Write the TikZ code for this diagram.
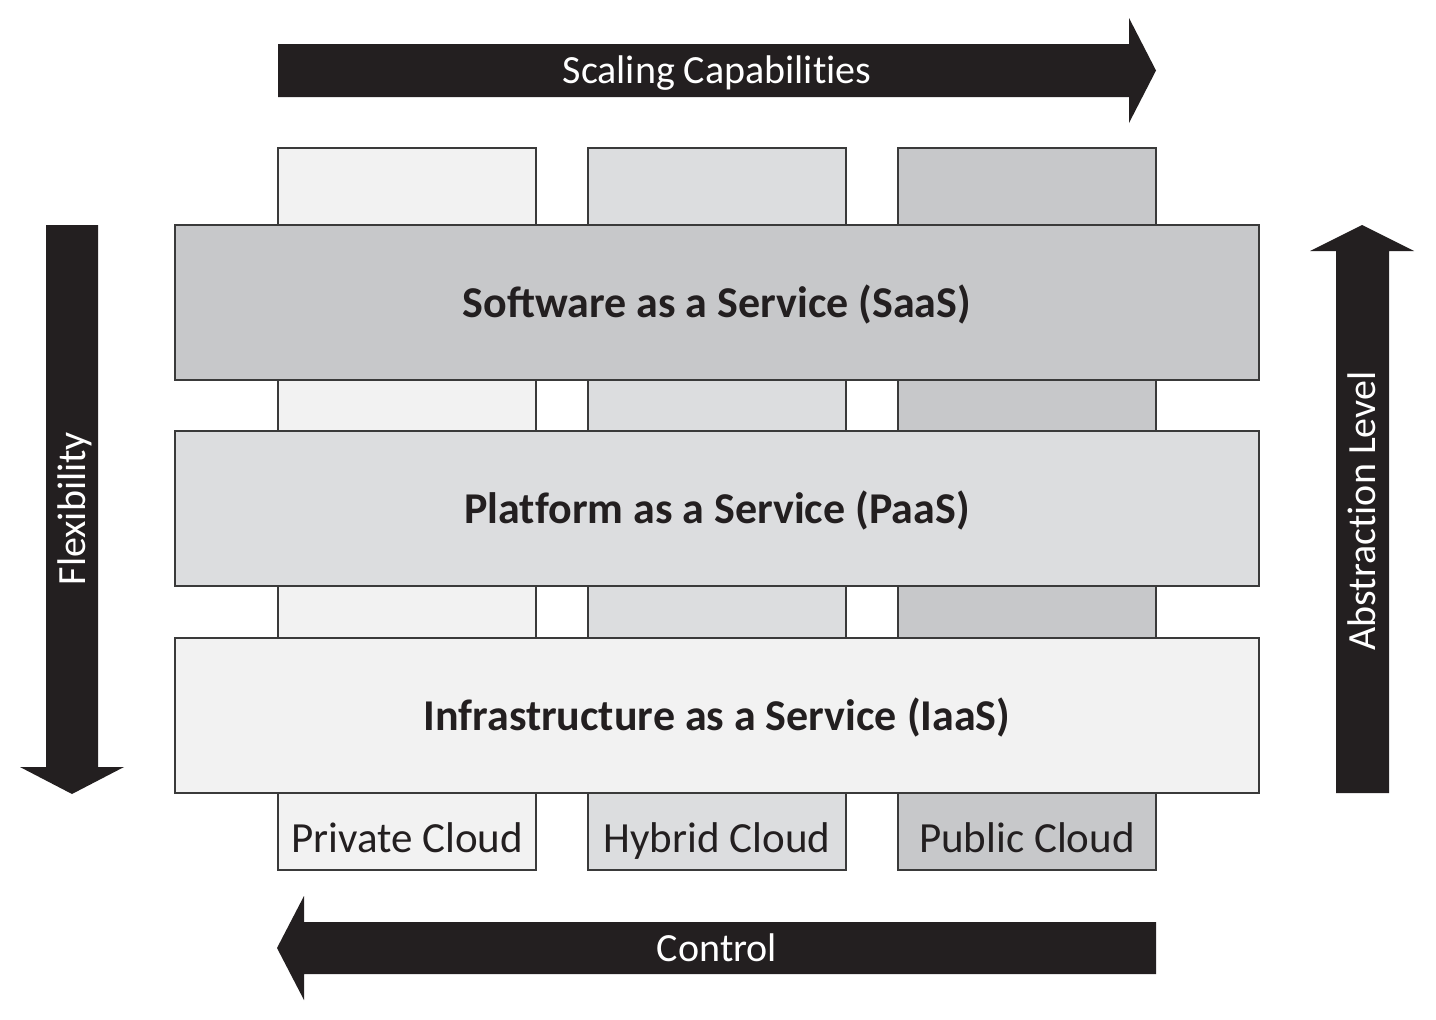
\documentclass[tikz,border=0pt]{standalone}
\usepackage{fontspec}
\setmainfont{Carlito}
\usepackage{xcolor}
\usepackage{tikz}
\usetikzlibrary{positioning,calc}
\definecolor{arrowblack}{HTML}{231F20}
\definecolor{cloudlight}{HTML}{F2F2F2}
\definecolor{cloudmid}{HTML}{DCDDDF}
\definecolor{clouddark}{HTML}{C7C8CA}
\definecolor{edgegray}{HTML}{3A3A3A}
% break the ti / tf ligatures of the font
\newcommand{\nolig}{\kern0pt }

\begin{document}
\begin{tikzpicture}[x=1pt, y=-1pt,
    cloudcol/.style={draw=edgegray, line width=1.3pt, minimum width=258pt, minimum height=722pt, inner sep=0pt},
    band/.style={draw=edgegray, line width=1.3pt, minimum width=1084pt, minimum height=155pt, inner sep=0pt},
    bandtext/.style={anchor=base, inner sep=0pt, text=arrowblack, font=\fontsize{44}{52}\selectfont\bfseries},
    coltext/.style={anchor=base, inner sep=0pt, text=arrowblack, font=\fontsize{43}{52}\selectfont},
    arrowtext/.style={anchor=base, inner sep=0pt, text=white, font=\fontsize{40}{48}\selectfont}]
    \useasboundingbox[fill=white] (0,0) rectangle (1436,1020);

    % Cloud columns
    \node[cloudcol, fill=cloudlight] (private) at (407,509) {};
    \node[cloudcol, fill=cloudmid] (hybrid) at (717,509) {};
    \node[cloudcol, fill=clouddark] (public) at (1027,509) {};

    % Service layers on top
    \node[band, fill=clouddark] (saas) at (717,302.5) {};
    \node[band, fill=cloudmid] (paas) at (717,508.5) {};
    \node[band, fill=cloudlight] (iaas) at (717,715.5) {};

    \node[bandtext] (saaslabel) at (717,317) {Software as a Service (SaaS)};
    \node[bandtext] (paaslabel) at (717,523) {Plat\nolig form as a Service (PaaS)};
    \node[bandtext] (iaaslabel) at (717,730) {Infrastructure as a Service (IaaS)};

    \node[coltext] (privatelabel) at (407,852) {Private Cloud};
    \node[coltext] (hybridlabel) at (717,852) {Hybrid Cloud};
    \node[coltext] (publiclabel) at (1027,852) {Public Cloud};

    % Scaling arrow (right)
    \fill[arrowblack] (278,44) -- (1129,44) -- (1129,18) -- (1156,70.5) -- (1129,123) -- (1129,97) -- (278,97) -- cycle;
    \node[arrowtext] (scaling) at (717,83.5) {Scaling Capabilit\nolig ies};

    % Control arrow (left)
    \fill[arrowblack] (1156,922) -- (304,922) -- (304,896) -- (277,948) -- (304,1000) -- (304,974) -- (1156,974) -- cycle;
    \node[arrowtext] (control) at (717,961) {Control};

    % Flexibility arrow (down)
    \fill[arrowblack] (46,225) -- (98,225) -- (98,767) -- (124,767) -- (72,794) -- (20,767) -- (46,767) -- cycle;
    \node[arrowtext, rotate=90] (flexibility) at (85,508.5) {Flexibilit\nolig y};

    % Abstraction arrow (up)
    \fill[arrowblack] (1336,793) -- (1336,251) -- (1310,251) -- (1362,225) -- (1414,251) -- (1389,251) -- (1389,793) -- cycle;
    \node[arrowtext, rotate=90] (abstraction) at (1375.5,511) {Abstract\nolig ion Level};
\end{tikzpicture}
\end{document}
